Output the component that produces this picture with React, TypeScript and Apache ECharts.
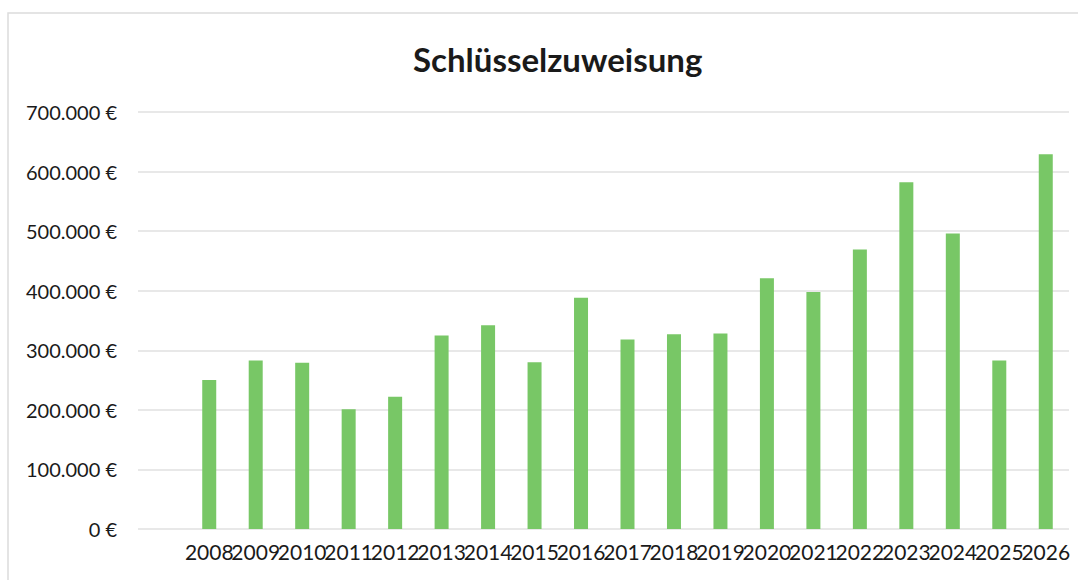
import React, { useEffect, useRef } from "react";
import * as echarts from "echarts";

const TITLE = "Schlüsselzuweisung";
const YEARS = ["2008","2009","2010","2011","2012","2013","2014","2015","2016","2017","2018","2019","2020","2021","2022","2023","2024","2025","2026"];
const VALUES = [250000, 283000, 279000, 201000, 222000, 325000, 342000, 280000, 388000, 318000, 327000, 328000, 421000, 398000, 469000, 582000, 496000, 283000, 629000];
const Y_MIN = 0;
const Y_MAX = 700000;
const Y_STEP = 100000;

const fmt = (v: number) => {
  const s = Math.round(v).toString().replace(/\B(?=(\d{3})+(?!\d))/g, ".");
  return s + " €";
};

export default function App() {
  const ref = useRef<HTMLDivElement>(null);
  useEffect(() => {
    if (!ref.current) return;
    const chart = echarts.init(ref.current, undefined, { renderer: "svg" });
    const font = "Lato, 'DejaVu Sans', sans-serif";
    chart.setOption({
      animation: false,
      backgroundColor: "#ffffff",
      title: {
        text: TITLE,
        left: 408,
        top: 37,
        textStyle: { fontFamily: font, fontWeight: "bold", fontSize: 33, color: "#1a1a1a" },
      },
      graphic: [
        {
          type: "rect",
          shape: { x: 8, y: 13, width: 1090, height: 600 },
          style: { fill: "none", stroke: "#dcdcdc", lineWidth: 1.5 },
          silent: true,
        },
      ],
      grid: [
        { left: 186, right: 9, top: 112, bottom: 51 },
        { left: 138, right: 9, top: 112, bottom: 51 },
      ],
      xAxis: [
        {
          type: "category",
          gridIndex: 0,
          data: YEARS,
          axisLine: { show: false },
          axisTick: { show: false },
          axisLabel: { fontFamily: font, fontSize: 21, color: "#1a1a1a", margin: 12, interval: 0 },
        },
        { type: "value", gridIndex: 1, show: false, min: 0, max: 1 },
      ],
      yAxis: [
        {
          type: "value",
          gridIndex: 0,
          min: Y_MIN,
          max: Y_MAX,
          interval: Y_STEP,
          splitLine: { show: false },
          axisLine: { show: false },
          axisTick: { show: false },
          axisLabel: { fontFamily: font, fontSize: 20, color: "#1a1a1a", margin: 69, formatter: fmt },
        },
        {
          type: "value",
          gridIndex: 1,
          min: Y_MIN,
          max: Y_MAX,
          interval: Y_STEP,
          axisLine: { show: false },
          axisTick: { show: false },
          axisLabel: { show: false },
          splitLine: { show: true, lineStyle: { color: "#e0e0e0", width: 1.5 } },
        },
      ],
      series: [
        {
          type: "bar",
          xAxisIndex: 0,
          yAxisIndex: 0,
          data: VALUES,
          barWidth: 14,
          itemStyle: { color: "#78c766" },
          z: 3,
        },
      ],
    });
    return () => chart.dispose();
  }, []);
  return <div ref={ref} style={{ position: "fixed", left: 0, top: 0, width: 1078, height: 580 }} />;
}
